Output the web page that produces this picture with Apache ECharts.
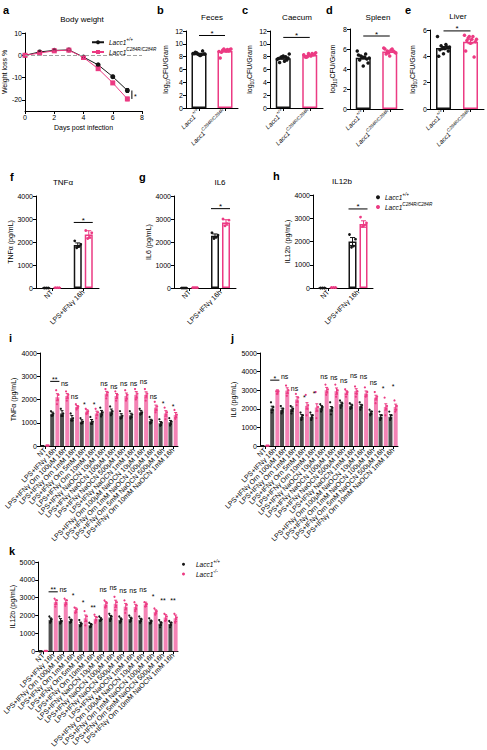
<!DOCTYPE html>
<html><head><meta charset="utf-8">
<script src="https://cdn.jsdelivr.net/npm/echarts@6/dist/echarts.min.js"></script>
<style>html,body{margin:0;padding:0;background:#fff}#c{width:487px;height:750px}</style>
</head><body><div id="c"></div>
<script>
// ================= DATA =================
// a: body weight
const days = [0, 1, 2, 3, 4, 5, 6, 7];
const bwWT = [0, 1.5, 2.2, 2.4, -0.8, -4.3, -9.6, -15.8];
const bwKO = [0, 1.0, 2.0, 2.3, -1.0, -6.0, -12.4, -19.6];
const bwErrWT = [0, 0.3, 0.3, 0.3, 0.4, 0.6, 0.6, 0.9];
const bwErrKO = [0, 0.3, 0.3, 0.3, 0.4, 0.6, 0.7, 0.8];

// b-e: log10 CFU/gram, individual mice
const genoCats = ['wt', 'c284r'];
const fecesWT = [8.5, 8.3, 8.6, 8.4, 8.2, 8.7, 8.4, 8.3, 8.5, 8.9, 8.4];
const fecesKO = [8.8, 9.1, 9.0, 9.2, 8.9, 8.7, 9.1, 9.0, 7.8, 8.9, 9.2];
const caecumWT = [7.6, 8.0, 7.9, 8.4, 7.3, 7.1, 7.8, 8.1, 7.7, 7.5, 8.0];
const caecumKO = [8.3, 8.5, 8.0, 8.6, 8.1, 7.9, 8.4, 8.2, 8.0, 8.3, 8.5];
const spleenWT = [5.8, 5.5, 5.3, 5.1, 5.2, 4.9, 4.6, 4.3, 5.4, 5.0, 5.2];
const spleenKO = [6.1, 6.0, 5.8, 5.6, 5.9, 5.5, 5.7, 5.3, 6.0, 5.8, 5.6];
const liverWT = [5.5, 4.9, 4.8, 4.7, 4.6, 4.5, 4.4, 4.2, 4.0, 4.7, 4.6];
const liverKO = [5.6, 5.5, 5.4, 5.3, 5.3, 5.2, 5.1, 5.0, 4.4, 3.95, 5.5];
const cfuSigY = [11.3, 11.0, 7.3, 5.93];

// f-h: cytokines, Lacc1 C284R
const cytoCats = ['NT', 'LPS+IFNγ 16h'];
const tnfMeanWT = [5, 1870],  tnfMeanKO = [15, 2330];
const tnfErrWT = [0, 90],     tnfErrKO = [0, 160];
const tnfPtsWT = [[0, 0, 0], [2050, 1900, 1800, 1750]];
const tnfPtsKO = [[15, 15, 15], [2500, 2400, 2200, 2150]];
const il6MeanWT = [5, 2270],  il6MeanKO = [20, 2850];
const il6ErrWT = [0, 80],     il6ErrKO = [0, 120];
const il6PtsWT = [[0, 0, 0], [2400, 2300, 2200, 2150]];
const il6PtsKO = [[20, 20, 20], [3000, 2950, 2800, 2700]];
const il12MeanWT = [5, 2000], il12MeanKO = [20, 2750];
const il12ErrWT = [0, 170],   il12ErrKO = [0, 140];
const il12PtsWT = [[0, 0, 0], [2300, 2100, 1800, 1750]];
const il12PtsKO = [[20, 20, 20], [3050, 2800, 2700, 2650]];
const cytoSigY = [2850, 3450, 3400];

// i-k: treatments, Lacc1 -/-
const treatCats = ['NT', 'LPS+IFNγ 16h', 'LPS+IFNγ Orn 100μM 16h', 'LPS+IFNγ Orn 1mM 16h',
  'LPS+IFNγ Orn 5mM 16h', 'LPS+IFNγ Orn 10mM 16h', 'LPS+IFNγ NaOCN 10μM 16h',
  'LPS+IFNγ NaOCN 100μM 16h', 'LPS+IFNγ NaOCN 500μM 16h', 'LPS+IFNγ NaOCN 1mM 16h',
  'LPS+IFNγ Orn 100μM NaOCN 10μM 16h', 'LPS+IFNγ Orn 1mM NaOCN 100μM 16h',
  'LPS+IFNγ Orn 5mM NaOCN 500μM 16h', 'LPS+IFNγ Orn 10mM NaOCN 1mM 16h'];

const iMeanWT = [0, 1380, 1400, 1200, 1050, 1050, 1430, 1480, 1300, 1320, 1450, 1080, 980, 1020];
const iMeanKO = [20, 2100, 2150, 1680, 1480, 1400, 2250, 2150, 2150, 2200, 2200, 1650, 1400, 1330];
const iErrWT = [0, 80, 120, 110, 80, 90, 100, 110, 90, 90, 80, 70, 70, 80];
const iErrKO = [0, 150, 110, 60, 80, 100, 100, 110, 130, 140, 130, 110, 120, 110];
const iPtsWT = [[0,0,0,0],[1500,1400,1320,1300],[1600,1400,1300,1300],[1400,1200,1100,1100],
  [1200,1050,980,970],[1250,1050,950,950],[1650,1450,1350,1270],[1700,1500,1400,1320],
  [1500,1300,1220,1180],[1500,1350,1250,1180],[1600,1450,1400,1350],[1250,1100,1000,970],
  [1150,1000,900,870],[1200,1050,950,880]];
const iPtsKO = [[20,20,20,20],[2400,2200,2000,1800],[2350,2200,2100,1950],[1800,1700,1650,1570],
  [1600,1500,1450,1370],[1600,1450,1350,1200],[2450,2300,2200,2050],[2350,2200,2100,1950],
  [2400,2200,2050,1950],[2450,2250,2100,2000],[2450,2250,2150,1950],[1900,1700,1550,1450],
  [1650,1450,1350,1150],[1550,1350,1250,1170]];
const iSigText = ['', '**', 'ns', 'ns', '*', '*', 'ns', 'ns', 'ns', 'ns', 'ns', 'ns', '*', '*'];
const iSigY = [0, 2780, 2670, 2150, 1860, 1860, 2670, 2580, 2670, 2670, 2760, 2150, 1900, 1790];

const jMeanWT = [0, 2020, 1930, 1980, 1570, 1570, 2050, 2000, 2250, 2140, 2140, 1790, 1570, 1570];
const jMeanKO = [20, 2910, 2980, 2500, 2160, 2070, 3000, 2950, 2870, 2950, 2820, 2600, 2100, 2100];
const jErrWT = [0, 120, 110, 120, 120, 110, 120, 120, 110, 110, 100, 90, 110, 110];
const jErrKO = [0, 110, 150, 150, 170, 200, 150, 170, 100, 130, 140, 130, 170, 150];
const jPtsWT = [[0,0,0,0],[2350,2100,1950,1800],[2150,2000,1900,1750],[2150,2000,1900,1750],
  [1800,1650,1550,1400],[1800,1650,1550,1400],[2250,2100,2000,1850],[2350,2050,1900,1700],
  [2450,2300,2200,2050],[2300,2200,2100,2000],[2350,2200,2100,1950],[1950,1850,1750,1650],
  [1850,1650,1500,1400],[1850,1650,1500,1400]];
const jPtsKO = [[20,20,20,20],[2950,2950,2900,2800],[3250,3000,2850,2700],[2800,2600,2400,2200],
  [2750,2200,2000,1650],[2900,2100,1900,1500],[3300,3050,2900,2750],[3300,3000,2850,2650],
  [3050,2900,2800,2650],[3200,2950,2800,2650],[3150,2900,2750,2650],[2900,2650,2550,2300],
  [2600,2150,2000,1650],[2450,2150,1950,1850]];
const jSigText = ['', '*', 'ns', 'ns', '*', '*', 'ns', 'ns', 'ns', 'ns', 'ns', 'ns', '*', '*'];
const jSigY = [0, 3540, 3750, 3090, 2730, 2910, 3710, 3680, 3540, 3770, 3710, 3430, 3180, 3320];

const kMeanWT = [0, 1760, 1710, 1710, 1530, 1460, 1800, 1890, 1760, 1800, 1760, 1670, 1550, 1530];
const kMeanKO = [20, 2750, 2750, 2300, 1850, 1820, 2630, 2660, 2500, 2480, 2630, 2210, 1890, 1850];
const kErrWT = [0, 110, 120, 90, 100, 90, 80, 120, 110, 110, 90, 80, 100, 100];
const kErrKO = [0, 130, 130, 130, 180, 130, 150, 200, 180, 150, 120, 110, 160, 180];
const kPtsWT = [[0,0,0,0],[1950,1800,1700,1600],[1950,1700,1650,1550],[1900,1750,1650,1600],
  [1750,1550,1450,1400],[1600,1500,1400,1350],[1950,1800,1750,1700],[2100,1950,1850,1700],
  [1950,1800,1700,1600],[2000,1850,1750,1650],[1950,1800,1700,1600],[1850,1700,1600,1550],
  [1750,1600,1500,1350],[1700,1600,1500,1350]];
const kPtsKO = [[20,20,20,20],[2950,2850,2700,2500],[2950,2850,2700,2550],[2450,2350,2250,2150],
  [2250,1950,1700,1450],[2050,1900,1750,1600],[2850,2700,2550,2450],[3050,2750,2550,2300],
  [2850,2600,2400,2150],[2750,2550,2400,2250],[2750,2650,2600,2500],[2400,2250,2150,2050],
  [2100,1950,1800,1700],[2100,1900,1800,1600]];
const kSigText = ['', '**', 'ns', '*', '*', '**', 'ns', 'ns', 'ns', 'ns', 'ns', '*', '**', '**'];
const kSigY = [0, 3330, 3470, 3240, 2830, 2570, 3470, 3560, 3420, 3380, 3470, 3200, 2930, 2930];

// ================= STYLE =================
const FONT = 'Liberation Sans';
const BLACK = '#151515', PINK = '#ec3b83', PINK_FILL = '#f483b5', GREY_FILL = '#4f4f4f';
const genoLabel = {
  wt: '{g|Lacc1}{s|+/+}',
  c284r: '{g|Lacc1}{s|C284R/C284R}',
  ko: '{g|Lacc1}{s|-/-}'
};
function rich(fs) {
  return {
    g: {fontStyle: 'italic', fontSize: fs, fontFamily: FONT, color: '#000', lineHeight: fs + 4},
    s: {fontStyle: 'italic', fontSize: Math.round(fs * 0.7 * 10) / 10, fontFamily: FONT, color: '#000', verticalAlign: 'top', lineHeight: fs + 4},
    n: {fontSize: fs, fontFamily: FONT, color: '#000', lineHeight: fs + 4},
    b: {fontSize: Math.round(fs * 0.7 * 10) / 10, fontFamily: FONT, color: '#000', verticalAlign: 'bottom', lineHeight: fs + 4}
  };
}
function axisBase(fs) {
  return {
    axisLine: {show: true, onZero: false, lineStyle: {color: '#000', width: 1}},
    axisTick: {show: true, length: 3, inside: false, lineStyle: {color: '#000', width: 1}},
    axisLabel: {color: '#000', fontSize: fs, fontFamily: FONT, margin: 3},
    splitLine: {show: false},
    nameLocation: 'middle',
    nameTextStyle: {color: '#000', fontSize: 7, fontFamily: FONT}
  };
}

const option = {
  animation: false, backgroundColor: '#fff', textStyle: {fontFamily: FONT},
  grid: [], xAxis: [], yAxis: [], series: [], legend: [], graphic: []
};

function addGrid(box) { option.grid.push(Object.assign({containLabel: false}, box)); return option.grid.length - 1; }

function dots(gi, groups, catStart, dx, spread, color, size, name) {
  const data = [];
  groups.forEach((arr, k) => {
    const n = arr.length;
    arr.forEach((v, j) => {
      const order = (j * 7) % n;
      data.push({value: [catStart + k, v], symbolOffset: [dx + (order - (n - 1) / 2) * spread, 0]});
    });
  });
  const s = {type: 'scatter', xAxisIndex: gi, yAxisIndex: gi, data, symbol: 'circle', symbolSize: size,
    itemStyle: {color, opacity: 1}, z: 4, silent: true};
  if (name) s.name = name;
  return s;
}
function errs(gi, xs, means, e, dx, color, capW) {
  return {type: 'custom', xAxisIndex: gi, yAxisIndex: gi, z: 5, silent: true, itemStyle: {color},
    data: means.map((m, i) => [xs[i], m, e[i]]),
    renderItem(params, api) {
      const x = api.value(0), m = api.value(1), er = api.value(2);
      if (!er) return;
      const p1 = api.coord([x, m + er]), p0 = api.coord([x, m - er]);
      const cx = p1[0] + dx;
      const st = {stroke: color, lineWidth: 1, fill: null};
      return {type: 'group', children: [
        {type: 'line', shape: {x1: cx, y1: p0[1], x2: cx, y2: p1[1]}, style: st},
        {type: 'line', shape: {x1: cx - capW, y1: p1[1], x2: cx + capW, y2: p1[1]}, style: st},
        {type: 'line', shape: {x1: cx - capW, y1: p0[1], x2: cx + capW, y2: p0[1]}, style: st}
      ]};
    }};
}
function sig(gi, items, fs) {
  return {type: 'custom', xAxisIndex: gi, yAxisIndex: gi, z: 6, silent: true, clip: false, itemStyle: {color: '#000'},
    data: items.map(it => [it.x1, it.y]),
    renderItem(params, api) {
      const it = items[params.dataIndex];
      const a = api.coord([it.x1, it.y]), b = api.coord([it.x2, it.y]);
      const x1 = a[0] + it.dx1, x2 = b[0] + it.dx2, y = a[1];
      const ch = [];
      if (it.line) ch.push({type: 'line', shape: {x1, y1: y, x2, y2: y}, style: {stroke: '#000', lineWidth: 1}});
      const star = it.text.indexOf('*') >= 0;
      const ty = it.line ? y - 2 : (star ? y + 2 : y);
      ch.push({type: 'text', x: (x1 + x2) / 2, y: ty,
        style: {text: it.text, fill: '#000', fontSize: fs, fontFamily: FONT, fontWeight: 'normal', align: 'center', verticalAlign: 'middle'}});
      return {type: 'group', children: ch};
    }};
}
function catX(gi, cats, fmt, fs) {
  const ax = axisBase(fs);
  Object.assign(ax, {gridIndex: gi, type: 'category', data: cats, boundaryGap: true});
  ax.axisTick.alignWithLabel = true;
  Object.assign(ax.axisLabel, {interval: 0, rotate: 45, formatter: fmt});
  if (fmt) ax.axisLabel.rich = rich(fs);
  return ax;
}
function valY(gi, min, max, interval, name, gap, nameRich) {
  const ax = axisBase(7);
  Object.assign(ax, {gridIndex: gi, type: 'value', min, max, interval, name, nameGap: gap});
  ax.axisLabel.formatter = v => String(v);
  if (nameRich) ax.nameTextStyle.rich = rich(7);
  return ax;
}

// ================= PANEL a =================
{
  const gi = addGrid({left: 24, top: 33, width: 118, height: 78});
  const xa = axisBase(7);
  Object.assign(xa, {gridIndex: gi, type: 'value', min: 0, max: 8, interval: 2, name: 'Days post infection', nameGap: 13});
  option.xAxis.push(xa);
  const ya = axisBase(7);
  Object.assign(ya, {gridIndex: gi, type: 'value', min: -25, max: 10, name: 'Weight loss %', nameGap: 12});
  ya.axisLabel.customValues = [-20, -10, 0, 10];
  ya.axisTick.customValues = [-20, -10, 0, 10];
  option.yAxis.push(ya);
  option.series.push({
    type: 'line', name: 'a_wt', xAxisIndex: gi, yAxisIndex: gi, data: days.map((d, i) => [d, bwWT[i]]),
    symbol: 'circle', symbolSize: 5, lineStyle: {color: BLACK, width: 1}, itemStyle: {color: BLACK}, z: 4,
    markLine: {silent: true, symbol: 'none', label: {show: false}, lineStyle: {type: 'dashed', color: '#a0a0a0', width: 1}, data: [{yAxis: 0}]}
  });
  option.series.push({
    type: 'line', name: 'a_ko', xAxisIndex: gi, yAxisIndex: gi, data: days.map((d, i) => [d, bwKO[i]]),
    symbol: 'rect', symbolSize: 5, lineStyle: {color: PINK, width: 1}, itemStyle: {color: PINK}, z: 4
  });
  option.series.push(errs(gi, days, bwWT, bwErrWT, 0, BLACK, 1.5));
  option.series.push(errs(gi, days, bwKO, bwErrKO, 0, PINK, 1.5));
  const last = days.length - 1;
  option.series.push({type: 'custom', xAxisIndex: gi, yAxisIndex: gi, z: 6, silent: true, itemStyle: {color: '#000'},
    data: [[days[last], bwWT[last], bwKO[last]]],
    renderItem(params, api) {
      const p1 = api.coord([api.value(0), api.value(1)]), p2 = api.coord([api.value(0), api.value(2)]);
      const lx = p1[0] + 4.5;
      return {type: 'group', children: [
        {type: 'line', shape: {x1: lx, y1: p1[1], x2: lx, y2: p2[1]}, style: {stroke: '#000', lineWidth: 1}},
        {type: 'text', x: lx + 3.5, y: (p1[1] + p2[1]) / 2 + 2, style: {text: '*', fill: '#000', fontSize: 7, fontFamily: FONT, align: 'center', verticalAlign: 'middle'}}
      ]};
    }});
  option.legend.push({data: ['a_wt', 'a_ko'], orient: 'vertical', left: 86, top: 32, itemWidth: 12, itemHeight: 5, itemGap: 1,
    formatter: n => n === 'a_wt' ? genoLabel.wt : genoLabel.c284r,
    textStyle: {fontSize: 6.5, fontFamily: FONT, rich: rich(6.5)}, selectedMode: false});
}

// ================= PANELS b-e =================
const cfuPanels = [
  {box: {left: 186, top: 31, width: 52, height: 77}, wt: fecesWT, ko: fecesKO, max: 12},
  {box: {left: 270, top: 31, width: 53, height: 77}, wt: caecumWT, ko: caecumKO, max: 12},
  {box: {left: 350, top: 29, width: 53, height: 80}, wt: spleenWT, ko: spleenKO, max: 8},
  {box: {left: 430, top: 30, width: 54, height: 79}, wt: liverWT, ko: liverKO, max: 6}
];
function mean(a) { return a.reduce((s, v) => s + v, 0) / a.length; }
function sem(a) { const m = mean(a); return Math.sqrt(a.reduce((s, v) => s + (v - m) * (v - m), 0) / (a.length - 1)) / Math.sqrt(a.length); }
cfuPanels.forEach((p, idx) => {
  const gi = addGrid(p.box);
  option.xAxis.push(catX(gi, genoCats, v => genoLabel[v], 6.5));
  option.yAxis.push(valY(gi, 0, p.max, 2, '{n|log}{b|10}{n|CFU/Gram}', 12.5, true));
  option.series.push({type: 'bar', xAxisIndex: gi, yAxisIndex: gi, barWidth: 15, z: 2, silent: true,
    data: [
      {value: mean(p.wt), itemStyle: {color: '#fff', borderColor: BLACK, borderWidth: 1.5}},
      {value: mean(p.ko), itemStyle: {color: '#fff', borderColor: PINK, borderWidth: 1.5}}
    ]});
  option.series.push(errs(gi, [0], [mean(p.wt)], [sem(p.wt)], 0, BLACK, 3));
  option.series.push(errs(gi, [1], [mean(p.ko)], [sem(p.ko)], 0, PINK, 3));
  option.series.push(dots(gi, [p.wt], 0, 0, 1.2, BLACK, 3.5));
  option.series.push(dots(gi, [p.ko], 1, 0, 1.2, PINK, 3.5));
  option.series.push(sig(gi, [{x1: 0, x2: 1, dx1: 0, dx2: 0, y: cfuSigY[idx], text: '*', line: true}], 8));
});

// ================= PANELS f-h =================
const cytoPanels = [
  {box: {left: 36, top: 196, width: 63, height: 92}, mW: tnfMeanWT, mK: tnfMeanKO, eW: tnfErrWT, eK: tnfErrKO, pW: tnfPtsWT, pK: tnfPtsKO, name: 'TNFα (pg/mL)', gap: 17.5},
  {box: {left: 174, top: 196, width: 62, height: 92}, mW: il6MeanWT, mK: il6MeanKO, eW: il6ErrWT, eK: il6ErrKO, pW: il6PtsWT, pK: il6PtsKO, name: 'IL6 (pg/mL)', gap: 18.5},
  {box: {left: 313, top: 195, width: 60, height: 93}, mW: il12MeanWT, mK: il12MeanKO, eW: il12ErrWT, eK: il12ErrKO, pW: il12PtsWT, pK: il12PtsKO, name: 'IL12b (pg/mL)', gap: 21, legend: true}
];
cytoPanels.forEach((p, idx) => {
  const gi = addGrid(p.box);
  const W = 8, G = 3, off = (W + G) / 2;
  option.xAxis.push(catX(gi, cytoCats, null, 7));
  option.yAxis.push(valY(gi, 0, 4000, 1000, p.name, p.gap, false));
  option.series.push({type: 'bar', xAxisIndex: gi, yAxisIndex: gi, data: p.mW, barWidth: W, barGap: (G / W * 100) + '%', z: 2, silent: true,
    itemStyle: {color: '#fff', borderColor: BLACK, borderWidth: 1.5}});
  option.series.push({type: 'bar', xAxisIndex: gi, yAxisIndex: gi, data: p.mK, barWidth: W, barGap: (G / W * 100) + '%', z: 2, silent: true,
    itemStyle: {color: '#fff', borderColor: PINK, borderWidth: 1.5}});
  option.series.push(errs(gi, [0, 1], p.mW, p.eW, -off, BLACK, 2.5));
  option.series.push(errs(gi, [0, 1], p.mK, p.eK, off, PINK, 2.5));
  option.series.push(dots(gi, p.pW, 0, -off, 2, BLACK, 2.8, p.legend ? 'h_wt' : null));
  option.series.push(dots(gi, p.pK, 0, off, 2, PINK, 2.8, p.legend ? 'h_ko' : null));
  option.series.push(sig(gi, [{x1: 1, x2: 1, dx1: -off - W / 2, dx2: off + W / 2, y: cytoSigY[idx], text: '*', line: true}], 8));
});
option.legend.push({data: ['h_wt', 'h_ko'], orient: 'vertical', left: 371, top: 187, itemWidth: 4, itemHeight: 4, itemGap: 1,
  formatter: n => n === 'h_wt' ? genoLabel.wt : genoLabel.c284r,
  textStyle: {fontSize: 6.5, fontFamily: FONT, rich: rich(6.5)}, selectedMode: false});

// ================= PANELS i-k =================
const treatPanels = [
  {box: {left: 40, top: 353, width: 138, height: 93}, max: 4000, mW: iMeanWT, mK: iMeanKO, eW: iErrWT, eK: iErrKO, pW: iPtsWT, pK: iPtsKO, st: iSigText, sy: iSigY, name: 'TNFα (pg/mL)', gap: 23.5},
  {box: {left: 260, top: 353, width: 138, height: 93}, max: 5000, mW: jMeanWT, mK: jMeanKO, eW: jErrWT, eK: jErrKO, pW: jPtsWT, pK: jPtsKO, st: jSigText, sy: jSigY, name: 'IL6 (pg/mL)', gap: 23.5},
  {box: {left: 38, top: 562, width: 140, height: 92}, max: 5000, mW: kMeanWT, mK: kMeanKO, eW: kErrWT, eK: kErrKO, pW: kPtsWT, pK: kPtsKO, st: kSigText, sy: kSigY, name: 'IL12b (pg/mL)', gap: 18.5, legend: true}
];
treatPanels.forEach(p => {
  const gi = addGrid(p.box);
  const W = 4, G = 1.2, off = (W + G) / 2;
  option.xAxis.push(catX(gi, treatCats, null, 7));
  option.yAxis.push(valY(gi, 0, p.max, 1000, p.name, p.gap, false));
  option.series.push({type: 'bar', xAxisIndex: gi, yAxisIndex: gi, data: p.mW, barWidth: W, barGap: (G / W * 100) + '%', z: 2, silent: true,
    itemStyle: {color: GREY_FILL}});
  option.series.push({type: 'bar', xAxisIndex: gi, yAxisIndex: gi, data: p.mK, barWidth: W, barGap: (G / W * 100) + '%', z: 2, silent: true,
    itemStyle: {color: PINK_FILL}});
  const xs = p.mW.map((_, i) => i);
  option.series.push(errs(gi, xs, p.mW, p.eW, -off, BLACK, 1.5));
  option.series.push(errs(gi, xs, p.mK, p.eK, off, PINK, 1.5));
  option.series.push(dots(gi, p.pW, 0, -off, 0.8, BLACK, 2.2, p.legend ? 'k_wt' : null));
  option.series.push(dots(gi, p.pK, 0, off, 0.8, PINK, 2.2, p.legend ? 'k_ko' : null));
  const items = [];
  p.st.forEach((t, i) => { if (t) items.push({x1: i, x2: i, dx1: -off - W / 2, dx2: off + W / 2, y: p.sy[i], text: t, line: i === 1}); });
  option.series.push(sig(gi, items, 7));
});
option.legend.push({data: ['k_wt', 'k_ko'], orient: 'vertical', left: 177, top: 554, itemWidth: 3, itemHeight: 3, itemGap: 1,
  formatter: n => n === 'k_wt' ? genoLabel.wt : genoLabel.ko,
  textStyle: {fontSize: 6.5, fontFamily: FONT, rich: rich(6.5), padding: [0, 0, 0, 6]}, selectedMode: false});

// ================= TITLES =================
const letters = [['a', 3, 10], ['b', 157, 10], ['c', 242, 10], ['d', 326, 10], ['e', 405, 10],
  ['f', 10, 177], ['g', 139, 177], ['h', 273, 176], ['i', 9, 338], ['j', 231, 338], ['k', 9, 551]];
const panelTitles = [['Body weight', 82, 19], ['Feces', 212, 17], ['Caecum', 297, 17], ['Spleen', 378, 17],
  ['Liver', 458, 16], ['TNFα', 63, 182], ['IL6', 220, 182], ['IL12b', 342, 181]];
letters.forEach(([t, x, y]) => option.graphic.push({type: 'text', x, y, silent: true,
  style: {text: t, fill: '#000', fontSize: 11, fontWeight: 'bold', fontFamily: FONT, align: 'left', verticalAlign: 'middle'}}));
panelTitles.forEach(([t, x, y]) => option.graphic.push({type: 'text', x, y, silent: true,
  style: {text: t, fill: '#000', fontSize: 8, fontWeight: 'normal', fontFamily: FONT, align: 'center', verticalAlign: 'middle'}}));

const chart = echarts.init(document.getElementById('c'), null, {renderer: 'svg'});
chart.setOption(option);
</script></body></html>
